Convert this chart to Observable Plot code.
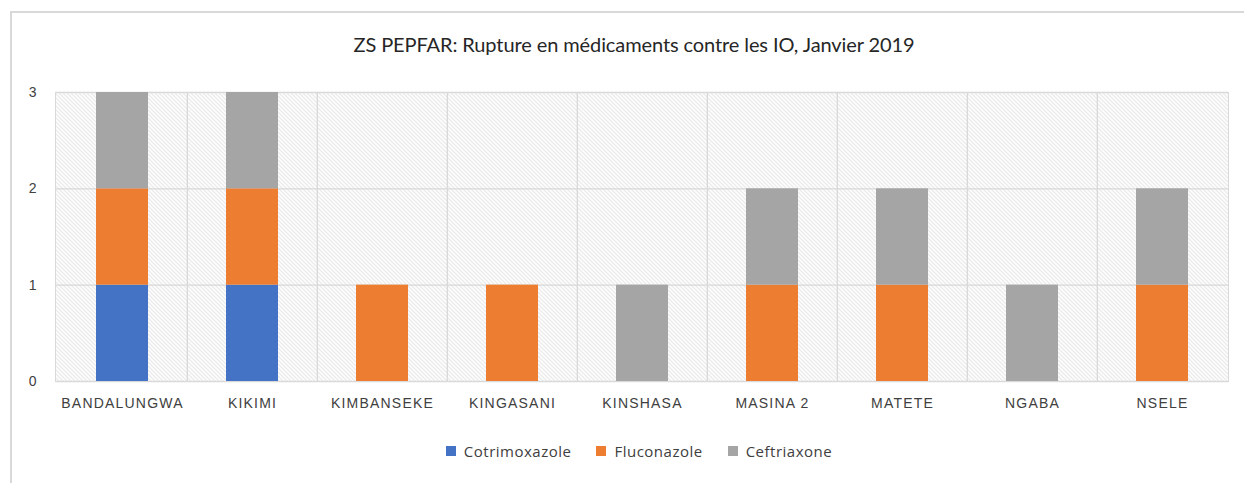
<!DOCTYPE html>
<html>
<head>
<meta charset="utf-8">
<script src="https://cdn.jsdelivr.net/npm/d3@7"></script>
<script src="https://cdn.jsdelivr.net/npm/@observablehq/plot@0.6"></script>
<style>
  html, body { margin: 0; padding: 0; background: #fff; width: 1244px; height: 483px; overflow: hidden; }
  #frame { position: absolute; left: 10px; top: 11px; width: 1300px; height: 500px; border-left: 2px solid #d9d9d9; border-top: 2px solid #d9d9d9; }
  #title { position: absolute; left: 0; top: 32px; width: 1268px; text-align: center; font-family: Lato, sans-serif; font-size: 20px; color: #262626; letter-spacing: -0.1px; }
  #chart { position: absolute; left: 0; top: 70px; }
  #legend { position: absolute; top: 441px; left: 0; width: 1278px; display: flex; justify-content: center; gap: 25px; font-family: "Open Sans", sans-serif; font-size: 15px; letter-spacing: 0.5px; color: #404040; }
  #legend .item { display: flex; align-items: center; gap: 8px; }
  #legend .sw { width: 10px; height: 10px; display: inline-block; }
</style>
</head>
<body>
<div id="frame"></div>
<div id="title">ZS PEPFAR: Rupture en médicaments contre les IO, Janvier 2019</div>
<div id="chart"></div>
<div id="legend"></div>
<script>
const categories = ["BANDALUNGWA", "KIKIMI", "KIMBANSEKE", "KINGASANI", "KINSHASA", "MASINA 2", "MATETE", "NGABA", "NSELE"];
const series = ["Cotrimoxazole", "Fluconazole", "Ceftriaxone"];
const colors = ["#4472C4", "#ED7D31", "#A5A5A5"];
const cotrimoxazole = [1, 1, 0, 0, 0, 0, 0, 0, 0];
const fluconazole   = [1, 1, 1, 1, 0, 1, 1, 0, 1];
const ceftriaxone   = [1, 1, 0, 0, 1, 1, 1, 1, 1];
const yTicks = [0, 1, 2, 3];

const values = [cotrimoxazole, fluconazole, ceftriaxone];
const data = [];
series.forEach((s, i) => categories.forEach((c, j) => data.push({cat: c, series: s, value: values[i][j]})));

const W = 1244, mL = 55, mR = 16;
const step = (W - mL - mR) / categories.length;

const chart = Plot.plot({
  width: W,
  height: 355,
  marginLeft: mL,
  marginRight: mR,
  marginTop: 22,
  marginBottom: 44,
  style: {fontFamily: "'Liberation Sans', sans-serif", fontSize: "14px", color: "#404040", background: "transparent"},
  x: {domain: categories, paddingInner: 0.6, paddingOuter: 0.3, label: null, tickSize: 0, tickPadding: 17},
  y: {domain: [0, 3], ticks: yTicks, label: null, tickSize: 0, tickPadding: 19, tickFormat: d3.format("d")},
  color: {domain: series, range: colors},
  marks: [
    Plot.frame({fill: "url(#hatch)", stroke: "#d9d9d9"}),
    Plot.ruleY(yTicks, {stroke: "#d9d9d9", strokeWidth: 1.3}),
    Plot.ruleX(categories.slice(1), {x: d => d, dx: -step / 2, stroke: "#d9d9d9", strokeWidth: 1.3}),
    Plot.barY(data, {x: "cat", y: "value", fill: "series", order: series})
  ]
});

const svg = d3.select(chart);
const defs = svg.insert("defs", ":first-child");
const pat = defs.append("pattern").attr("id", "hatch").attr("patternUnits", "userSpaceOnUse").attr("width", 4).attr("height", 4);
pat.append("rect").attr("width", 4).attr("height", 4).attr("fill", "#ffffff");
pat.append("path").attr("d", "M-1,-1 L5,5 M-1,3 L1,5 M3,-1 L5,1").attr("stroke", "#d6d6d6").attr("stroke-width", 1);
svg.selectAll("g[aria-label='x-axis tick label'] text").style("letter-spacing", "1.2px");
svg.selectAll("g[aria-label='y-axis tick label'] text").style("font-size", "14px");
document.getElementById("chart").appendChild(chart);

const legend = document.getElementById("legend");
series.forEach((s, i) => {
  const it = document.createElement("div");
  it.className = "item";
  it.innerHTML = `<span class="sw" style="background:${colors[i]}"></span><span>${s}</span>`;
  legend.appendChild(it);
});
</script>
</body>
</html>
